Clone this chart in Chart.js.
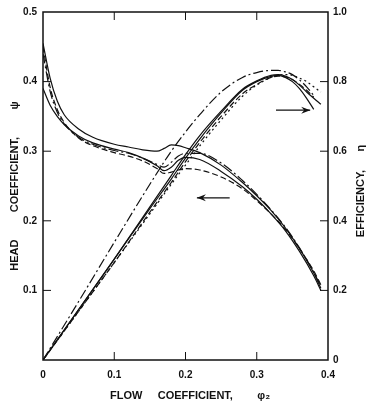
<!DOCTYPE html>
<html>
<head>
<meta charset="utf-8">
<script src="https://cdn.jsdelivr.net/npm/chart.js@4/dist/chart.umd.min.js"></script>
<style>
  html, body { margin: 0; padding: 0; background: #fff; }
  #wrap { width: 375px; height: 407px; position: relative; }
</style>
</head>
<body>
<div id="wrap"><canvas id="perf"></canvas></div>
<script>
// tick labels
var xTicks = ['0', '0.1', '0.2', '0.3', '0.4'];
var headTicks = ['', '0.1', '0.2', '0.3', '0.4', '0.5'];
var effTicks = ['0', '0.2', '0.4', '0.6', '0.8', '1.0'];

// head coefficient curves (left axis)
var phiHead = [0, 0.01, 0.02, 0.03, 0.05, 0.07, 0.1, 0.12, 0.14, 0.16, 0.17, 0.18, 0.19, 0.2, 0.22, 0.25, 0.28, 0.3, 0.32, 0.34, 0.36, 0.38, 0.39];
var headSolidA = [0.455, 0.405, 0.372, 0.352, 0.332, 0.320, 0.310, 0.306, 0.302, 0.300, 0.304, 0.309, 0.308, 0.305, 0.298, 0.280, 0.255, 0.236, 0.215, 0.190, 0.160, 0.125, 0.103];
var headSolidB = [0.390, 0.366, 0.350, 0.338, 0.322, 0.312, 0.303, 0.298, 0.290, 0.279, 0.272, 0.277, 0.287, 0.291, 0.288, 0.271, 0.249, 0.231, 0.210, 0.186, 0.156, 0.121, 0.100];
var headDashed = [0.450, 0.392, 0.360, 0.341, 0.319, 0.308, 0.298, 0.293, 0.286, 0.275, 0.268, 0.270, 0.273, 0.275, 0.273, 0.263, 0.246, 0.229, 0.210, 0.188, 0.160, 0.128, 0.108];
var headDashDot = [0.440, 0.386, 0.356, 0.339, 0.320, 0.310, 0.301, 0.297, 0.290, 0.281, 0.277, 0.284, 0.293, 0.297, 0.297, 0.283, 0.258, 0.238, 0.216, 0.191, 0.161, 0.126, 0.106];

// efficiency curves (right axis)
var phiEff = [0, 0.05, 0.1, 0.15, 0.18, 0.2, 0.22, 0.25, 0.28, 0.3, 0.32, 0.33, 0.34, 0.35, 0.36, 0.37, 0.38, 0.39];
var effSolidA = [0, 0.145, 0.29, 0.435, 0.52, 0.58, 0.635, 0.71, 0.775, 0.80, 0.815, 0.818, 0.812, 0.80, 0.78, 0.752, 0.72, null];
var effSolidB = [0, 0.145, 0.29, 0.44, 0.53, 0.59, 0.645, 0.715, 0.778, 0.802, 0.818, 0.82, 0.816, 0.806, 0.79, 0.77, 0.752, 0.735];
var effDashed = [0, 0.14, 0.28, 0.425, 0.51, 0.57, 0.625, 0.70, 0.765, 0.792, 0.812, 0.816, 0.814, 0.806, 0.792, 0.775, 0.755, null];
var effDashDot = [0, 0.168, 0.338, 0.505, 0.6, 0.655, 0.705, 0.77, 0.812, 0.826, 0.832, 0.832, 0.828, 0.82, 0.805, 0.785, 0.76, null];
var effDotted = [0, 0.14, 0.28, 0.42, 0.505, 0.56, 0.615, 0.69, 0.758, 0.79, 0.812, 0.818, 0.82, 0.818, 0.81, 0.80, 0.785, 0.77];

function pts(xs, ys) {
  var out = [];
  for (var i = 0; i < xs.length; i++) {
    if (ys[i] !== null) out.push({ x: xs[i], y: ys[i] });
  }
  return out;
}

function curve(xs, ys, axis, dash) {
  return {
    data: pts(xs, ys),
    yAxisID: axis,
    borderColor: '#111',
    borderWidth: 1.2,
    borderDash: dash,
    pointRadius: 0,
    showLine: true,
    fill: false,
    cubicInterpolationMode: 'monotone'
  };
}

var FONT = 'Liberation Sans, Arial, sans-serif';

// frame, inward ticks, right title and the two arrows
var framePlugin = {
  id: 'frame',
  afterDraw: function (chart) {
    var ctx = chart.ctx;
    var a = chart.chartArea;
    var sx = chart.scales.x, sl = chart.scales.yHead, sr = chart.scales.yEff;
    ctx.save();
    ctx.strokeStyle = '#111';
    ctx.lineWidth = 1.5;
    ctx.strokeRect(a.left, a.top, a.right - a.left, a.bottom - a.top);
    ctx.lineWidth = 1;
    var L = 8;
    ctx.beginPath();
    sx.ticks.forEach(function (t) {
      if (t.value <= 0 || t.value >= 0.4) return;
      var px = sx.getPixelForValue(t.value);
      ctx.moveTo(px, a.bottom); ctx.lineTo(px, a.bottom - L);
      ctx.moveTo(px, a.top); ctx.lineTo(px, a.top + L);
    });
    sl.ticks.forEach(function (t) {
      if (t.value <= 0 || t.value >= 0.5) return;
      var py = sl.getPixelForValue(t.value);
      ctx.moveTo(a.left, py); ctx.lineTo(a.left + L, py);
    });
    sr.ticks.forEach(function (t) {
      if (t.value <= 0 || t.value >= 1) return;
      var py = sr.getPixelForValue(t.value);
      ctx.moveTo(a.right, py); ctx.lineTo(a.right - L, py);
    });
    ctx.stroke();

    // right axis title, reading bottom to top
    ctx.save();
    ctx.translate(a.right + 33, (a.top + a.bottom) / 2 + 5);
    ctx.rotate(-Math.PI / 2);
    ctx.fillStyle = '#111';
    ctx.font = 'bold 11px ' + FONT;
    ctx.textAlign = 'center';
    ctx.textBaseline = 'middle';
    ctx.fillText('EFFICIENCY,      η', 0, 0);
    ctx.restore();

    // arrows
    function arrow(x0, x1, yv, scale) {
      var p0 = sx.getPixelForValue(x0), p1 = sx.getPixelForValue(x1);
      var py = scale.getPixelForValue(yv);
      var d = p1 > p0 ? 1 : -1;
      ctx.lineWidth = 1.3;
      ctx.beginPath();
      ctx.moveTo(p0, py); ctx.lineTo(p1, py);
      ctx.stroke();
      ctx.beginPath();
      ctx.moveTo(p1, py);
      ctx.lineTo(p1 - d * 9, py - 3.5);
      ctx.lineTo(p1 - d * 6, py);
      ctx.lineTo(p1 - d * 9, py + 3.5);
      ctx.closePath();
      ctx.fillStyle = '#111';
      ctx.fill();
    }
    arrow(0.327, 0.375, 0.718, sr);
    arrow(0.262, 0.216, 0.233, sl);
    ctx.restore();
  }
};

new Chart(document.getElementById('perf'), {
  type: 'scatter',
  data: {
    datasets: [
      curve(phiHead, headSolidA, 'yHead', []),
      curve(phiHead, headSolidB, 'yHead', []),
      curve(phiHead, headDashed, 'yHead', [6, 3]),
      curve(phiHead, headDashDot, 'yHead', [10, 3, 2, 3]),
      curve(phiEff, effSolidA, 'yEff', []),
      curve(phiEff, effSolidB, 'yEff', []),
      curve(phiEff, effDashed, 'yEff', [6, 3]),
      curve(phiEff, effDashDot, 'yEff', [10, 3, 2, 3]),
      curve(phiEff, effDotted, 'yEff', [2, 3])
    ]
  },
  options: {
    responsive: true,
    maintainAspectRatio: false,
    animation: false,
    layout: { padding: { top: 12, right: 0, left: 0, bottom: 0 } },
    plugins: {
      legend: { display: false },
      tooltip: { enabled: false }
    },
    scales: {
      x: {
        type: 'linear',
        min: 0, max: 0.4,
        grid: { display: false, drawTicks: false },
        border: { display: false },
        ticks: {
          stepSize: 0.1,
          color: '#111',
          padding: 9,
          font: { family: FONT, size: 10, weight: 'bold' },
          callback: function (v, i) { return xTicks[i]; }
        },
        title: {
          display: true,
          text: '   FLOW     COEFFICIENT,        φ₂',
          color: '#111',
          padding: { top: 8 },
          font: { family: FONT, size: 11, weight: 'bold' }
        },
        afterFit: function (s) { s.height = 47; }
      },
      yHead: {
        type: 'linear',
        position: 'left',
        min: 0, max: 0.5,
        grid: { display: false, drawTicks: false },
        border: { display: false },
        ticks: {
          stepSize: 0.1,
          color: '#111',
          padding: 6,
          font: { family: FONT, size: 10, weight: 'bold' },
          callback: function (v, i) { return headTicks[i]; }
        },
        title: {
          display: true,
          text: 'HEAD         COEFFICIENT,         ψ',
          color: '#111',
          padding: { top: 8, bottom: 0 },
          font: { family: FONT, size: 11, weight: 'bold' }
        },
        afterFit: function (s) { s.width = 43; }
      },
      yEff: {
        type: 'linear',
        position: 'right',
        min: 0, max: 1,
        grid: { display: false, drawTicks: false },
        border: { display: false },
        ticks: {
          stepSize: 0.2,
          color: '#111',
          padding: 5,
          font: { family: FONT, size: 10, weight: 'bold' },
          callback: function (v, i) { return effTicks[i]; }
        },
        title: { display: false },
        afterFit: function (s) { s.width = 47; }
      }
    }
  },
  plugins: [framePlugin]
});
</script>
</body>
</html>
